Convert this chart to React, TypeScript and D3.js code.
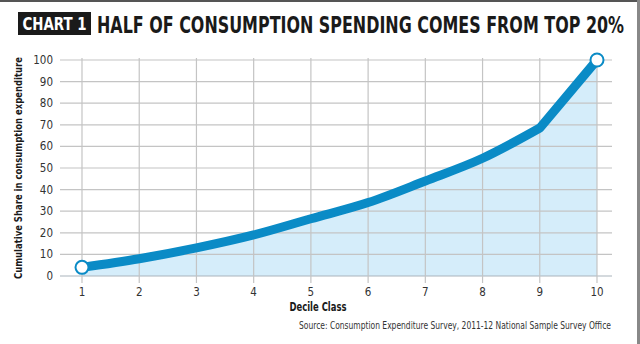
import * as d3 from "d3";

// cumulative share (%) by decile class
const deciles = [1, 2, 3, 4, 5, 6, 7, 8, 9, 10];
const share = [4, 8, 13, 19, 26.5, 34, 44, 54.5, 68.5, 100];
const yTicks = [0, 10, 20, 30, 40, 50, 60, 70, 80, 90, 100];

const W = 640;
const H = 344;
const blue = "#0a8bc6";
const condensed = "'Liberation Sans Narrow', 'DejaVu Sans Condensed', 'Roboto', sans-serif";

export default function App() {
  const x = d3.scaleLinear().domain([1, 10]).range([82, 597]);
  const y = d3.scaleLinear().domain([0, 100]).range([276, 60]);

  const data = deciles.map((d, i) => ({ d, v: share[i] }));

  // smooth until decile 9, then a straight run up to 10
  const line = d3
    .line<{ d: number; v: number }>()
    .x((p) => x(p.d))
    .y((p) => y(p.v))
    .curve(d3.curveMonotoneX);
  const head = data.slice(0, 9);
  const last = data[9];
  const pathD = line(head) + `L${x(last.d)},${y(last.v)}`;
  const fillD =
    pathD + `L${x(last.d)},${y(0)}L${x(data[0].d)},${y(0)}Z`;

  return (
    <svg
      width={W}
      height={H}
      style={{ position: "absolute", left: 0, top: 0, background: "#fff" }}
    >
      {/* frame */}
      <rect x={0} y={0} width={W} height={2} fill="#555" />
      <rect x={637} y={0} width={3} height={H} fill="#888" />

      {/* title */}
      <rect x={18} y={12} width={73} height={23} fill="#1a1a1a" />
      <text
        x={54.5}
        y={30}
        textAnchor="middle"
        fill="#fff"
        fontFamily={condensed}
        fontWeight="bold"
        fontSize={17}
        textLength={64}
        lengthAdjust="spacingAndGlyphs"
      >
        CHART 1
      </text>
      <text
        x={97}
        y={33}
        fill="#1a1a1a"
        fontFamily={condensed}
        fontWeight="bold"
        fontSize={23}
        textLength={527}
        lengthAdjust="spacingAndGlyphs"
      >
        HALF OF CONSUMPTION SPENDING COMES FROM TOP 20%
      </text>

      {/* fill */}
      <path d={fillD} fill="#d5edfa" />

      {/* horizontal grid */}
      {yTicks.map((t) => (
        <g key={t}>
          <line
            x1={60}
            x2={612}
            y1={y(t)}
            y2={y(t)}
            stroke={t === 0 ? "#aab4bb" : "#c4c4c4"}
            strokeWidth={1.2}
          />
          <text
            x={53}
            y={y(t) + 4}
            textAnchor="end"
            fontFamily={condensed}
            fontSize={11.5}
            fill="#333"
          >
            {t}
          </text>
        </g>
      ))}

      {/* vertical grid */}
      {deciles.map((d) => (
        <g key={d}>
          <line
            x1={x(d)}
            x2={x(d)}
            y1={y(100) - 2}
            y2={y(0) + 7}
            stroke="#c4c4c4"
            strokeWidth={1.2}
          />
          <text
            x={x(d)}
            y={296}
            textAnchor="middle"
            fontFamily={condensed}
            fontSize={11.5}
            fill="#333"
          >
            {d}
          </text>
        </g>
      ))}

      {/* line */}
      <path
        d={pathD}
        fill="none"
        stroke={blue}
        strokeWidth={9}
        strokeLinejoin="round"
      />
      <circle cx={x(data[0].d)} cy={y(data[0].v)} r={6.5} fill="#fff" stroke={blue} strokeWidth={2} />
      <circle cx={x(last.d)} cy={y(last.v)} r={6.5} fill="#fff" stroke={blue} strokeWidth={2} />

      {/* axis titles */}
      <text
        transform={`translate(22,${(y(0) + y(100)) / 2}) rotate(-90)`}
        textAnchor="middle"
        fontFamily={condensed}
        fontWeight="bold"
        fontSize={11}
        fill="#1a1a1a"
        textLength={222}
        lengthAdjust="spacingAndGlyphs"
      >
        Cumulative Share in consumption expenditure
      </text>
      <text
        x={318}
        y={311}
        textAnchor="middle"
        fontFamily={condensed}
        fontWeight="bold"
        fontSize={12}
        fill="#1a1a1a"
        textLength={57}
        lengthAdjust="spacingAndGlyphs"
      >
        Decile Class
      </text>
      <text
        x={611}
        y={329}
        textAnchor="end"
        fontFamily={condensed}
        fontSize={10}
        fill="#333"
        textLength={312}
        lengthAdjust="spacingAndGlyphs"
      >
        Source: Consumption Expenditure Survey, 2011-12 National Sample Survey Office
      </text>
    </svg>
  );
}
